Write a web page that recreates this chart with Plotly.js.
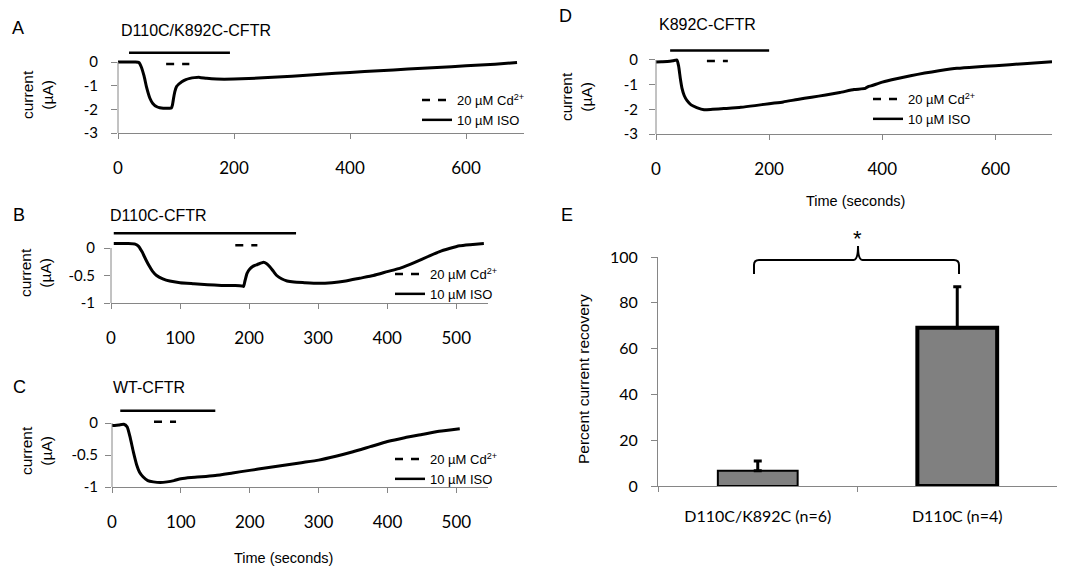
<!DOCTYPE html>
<html>
<head>
<meta charset="utf-8">
<script src="https://cdn.plot.ly/plotly-3.0.1.min.js"></script>
<style>html,body{margin:0;padding:0;background:#fff}#chart{width:1077px;height:567px}</style>
</head>
<body>
<div id="chart"></div>
<script>
// ---------- DATA ----------
// Panel A: D110C/K892C-CFTR
const timeA = [0,10,20,30,36,40,45,49,55,60,67,72,78,85,92,94,96,98,101,105,110,117,124,132,141,153,170,200,250,300,350,400,450,500,550,600,650,688];
const currentA = [0,0,0,0,-0.02,-0.2,-0.6,-1.04,-1.53,-1.75,-1.89,-1.93,-1.95,-1.95,-1.95,-1.8,-1.5,-1.25,-1.04,-0.93,-0.83,-0.74,-0.69,-0.66,-0.65,-0.69,-0.72,-0.72,-0.67,-0.6,-0.52,-0.44,-0.37,-0.3,-0.23,-0.16,-0.09,-0.02];
const isoA = [19, 193];
const cdA = [83, 123];

// Panel B: D110C-CFTR
const timeB = [4,15,25,35,40,45,50,55,60,66,75,85,100,120,140,160,180,190,192,194,197,201,206,212,218,221,225,230,235,240,247,255,265,280,300,320,340,360,380,400,420,440,460,475,490,505,520,540];
const currentB = [0.08,0.08,0.08,0.07,0.03,-0.07,-0.2,-0.32,-0.42,-0.5,-0.56,-0.6,-0.63,-0.65,-0.67,-0.68,-0.68,-0.69,-0.7,-0.6,-0.46,-0.38,-0.33,-0.3,-0.27,-0.26,-0.28,-0.34,-0.42,-0.5,-0.56,-0.6,-0.62,-0.63,-0.64,-0.63,-0.6,-0.55,-0.5,-0.43,-0.36,-0.26,-0.15,-0.07,-0.01,0.04,0.06,0.08];
const isoB = [4, 268];
const cdB = [180, 212];

// Panel C: WT-CFTR
const timeC = [0,10,17,22,26,31,36,40,45,52,60,70,80,90,100,115,130,150,175,200,225,250,275,300,325,350,375,400,425,450,475,505];
const currentC = [-0.04,-0.03,-0.02,-0.06,-0.21,-0.45,-0.66,-0.77,-0.84,-0.9,-0.92,-0.93,-0.92,-0.9,-0.87,-0.85,-0.84,-0.82,-0.78,-0.74,-0.7,-0.66,-0.62,-0.58,-0.52,-0.45,-0.37,-0.29,-0.23,-0.18,-0.13,-0.09];
const isoC = [12, 150];
const cdC = [61, 93];

// Panel D: K892C-CFTR
const timeD = [0,10,20,30,37,40,43,46,50,55,62,72,85,100,120,150,175,200,225,250,275,300,325,350,370,375,380,400,425,450,475,500,532,565,600,650,700];
const currentD = [-0.08,-0.07,-0.06,-0.03,0,-0.25,-0.75,-1.15,-1.45,-1.65,-1.82,-1.93,-2.02,-2.0,-1.97,-1.92,-1.85,-1.77,-1.7,-1.6,-1.51,-1.42,-1.32,-1.2,-1.15,-1.08,-1.05,-0.9,-0.76,-0.64,-0.53,-0.44,-0.34,-0.28,-0.23,-0.15,-0.07];
const isoD = [25, 200];
const cdD = [90, 127];

// Panel E: percent current recovery
const categoriesE = ['D110C/K892C (n=6)', 'D110C (n=4)'];
const recoveryE = [6.7, 69.1];
const errorE = [4.2, 17.9];

// Tick labels
const xTicksAD = [0, 200, 400, 600];
const xTicksBC = [0, 100, 200, 300, 400, 500];
const yTicksAD = [0, -1, -2, -3];
const yTickTextAD = ['0', '-1', '-2', '-3'];
const yTicksBC = [0, -0.5, -1];
const yTickTextBC = ['0', '-0.5', '-1'];
const yTicksE = [0, 20, 40, 60, 80, 100];

const cdName = '20 µM Cd<sup>2+</sup>';
const isoName = '10 µM ISO';

// ---------- STYLE / LAYOUT ----------
const W = 1077, H = 567;
const GRAY = '#868686';
const ARIAL = 'Liberation Sans, Arial, sans-serif';
const TICKF = 'Lato, Carlito, sans-serif';
const px = v => v / W;
const py = v => 1 - v / H;

function panelTraces(n, t, I, iso, cd, isoLevel, cdLevel) {
  const xa = n === 1 ? 'x' : 'x' + n;
  const ya = n === 1 ? 'y' : 'y' + n;
  const lg = n === 1 ? 'legend' : 'legend' + n;
  return [
    {x: t, y: I, xaxis: xa, yaxis: ya, mode: 'lines', showlegend: false, hoverinfo: 'skip',
     line: {color: '#000', width: 3, shape: 'spline', smoothing: 0.5}},
    {x: cd, y: [cdLevel, cdLevel], xaxis: xa, yaxis: ya, mode: 'lines', name: cdName, legend: lg,
     line: {color: '#000', width: 2.5, dash: '8px,8px'}},
    {x: iso, y: [isoLevel, isoLevel], xaxis: xa, yaxis: ya, mode: 'lines', name: isoName, legend: lg,
     line: {color: '#000', width: 2.5}}
  ];
}

const data = [].concat(
  panelTraces(1, timeA, currentA, isoA, cdA, 0.39, -0.08),
  panelTraces(2, timeB, currentB, isoB, cdB, 0.27, 0.05),
  panelTraces(3, timeC, currentC, isoC, cdC, 0.19, 0.02),
  panelTraces(4, timeD, currentD, isoD, cdD, 0.38, -0.04),
  [{
    x: categoriesE, y: recoveryE, type: 'bar', xaxis: 'x5', yaxis: 'y5', showlegend: false, hoverinfo: 'skip',
    marker: {color: '#808080', line: {color: '#000', width: [2, 4]}},
    error_y: {type: 'data', array: errorE, arrayminus: [0, 0], symmetric: false, color: '#000', thickness: 3, width: 4}
  }]
);

function xAxis(domain, range, anchor, tickvals) {
  return {domain, range, anchor, tickvals, showline: true, linecolor: GRAY, linewidth: 1,
    ticks: 'outside', ticklen: 5, tickcolor: GRAY, showgrid: false, zeroline: false,
    tickfont: {family: TICKF, size: 17, color: '#000'}, ticklabelstandoff: 15, fixedrange: true};
}
function yAxis(domain, range, anchor, tickvals, ticktext, standoff) {
  return {domain, range, anchor, tickvals, ticktext, showline: false,
    ticks: 'outside', ticklen: 6, tickcolor: GRAY, showgrid: false, zeroline: false,
    tickfont: {family: TICKF, size: 15, color: '#000'}, ticklabelstandoff: standoff, fixedrange: true};
}
function legendAt(x, y) {
  return {x, y, xanchor: 'left', yanchor: 'top', bgcolor: 'rgba(0,0,0,0)', borderwidth: 0,
    font: {family: ARIAL, size: 13, color: '#000'}};
}
function yLine(xref, yref, y0) {
  return {type: 'line', xref: xref + ' domain', yref, x0: 0, x1: 0, y0, y1: 0, line: {color: GRAY, width: 1}};
}
function ann(text, x, y, size, angle) {
  return {text, x: px(x), y: py(y), xref: 'paper', yref: 'paper', xanchor: 'center', yanchor: 'middle',
    showarrow: false, textangle: angle || 0, font: {family: ARIAL, size, color: '#000'}};
}

const layout = {
  width: W, height: H, margin: {l: 0, r: 0, t: 0, b: 0},
  paper_bgcolor: '#fff', plot_bgcolor: 'rgba(0,0,0,0)',
  font: {family: ARIAL, color: '#000'},
  showlegend: true, bargap: 0.6,
  xaxis: xAxis([px(118), px(524)], [0, 700], 'y', xTicksAD),
  yaxis: yAxis([py(133), py(49)], [-3, 0.55], 'x', yTicksAD, yTickTextAD, 10),
  xaxis2: xAxis([px(111), px(488)], [0, 546], 'y2', xTicksBC),
  yaxis2: yAxis([py(303), py(228.75)], [-1, 0.35], 'x2', yTicksBC, yTickTextBC, 6),
  xaxis3: xAxis([px(112), px(488)], [0, 546], 'y3', xTicksBC),
  yaxis3: yAxis([py(487), py(403.8)], [-1, 0.3], 'x3', yTicksBC, yTickTextBC, 4),
  xaxis4: xAxis([px(656), px(1052)], [0, 700], 'y4', xTicksAD),
  yaxis4: yAxis([py(134), py(46.4)], [-3, 0.55], 'x4', yTicksAD, yTickTextAD, 8),
  xaxis5: Object.assign(xAxis([px(658), px(1057)], [-0.5, 1.5], 'y5', undefined),
    {type: 'category', tickson: 'boundaries', tickvals: undefined, ticklabelstandoff: 16,
     tickfont: {family: TICKF, size: 16, color: '#000'}}),
  yaxis5: {domain: [py(486), py(257)], range: [0, 100], anchor: 'x5', tickvals: yTicksE,
    showline: true, linecolor: GRAY, linewidth: 1, ticks: 'outside', ticklen: 6, tickcolor: GRAY,
    showgrid: false, zeroline: false, tickfont: {family: TICKF, size: 16, color: '#000'},
    ticklabelstandoff: 10, fixedrange: true},
  legend: legendAt(px(417), py(85)),
  legend2: legendAt(px(390), py(259)),
  legend3: legendAt(px(390), py(444)),
  legend4: legendAt(px(868), py(84)),
  shapes: [
    yLine('x', 'y', -3),
    yLine('x2', 'y2', -1),
    yLine('x3', 'y3', -1),
    yLine('x4', 'y4', -3),
    {type: 'path', xref: 'x5 domain', yref: 'y5 domain', line: {color: '#000', width: 2},
     path: 'M0.2406,0.926 L0.2406,0.965 Q0.2406,0.987 0.2531,0.987 L0.49,0.987 Q0.5013,0.987 0.5013,1.048 Q0.5013,0.987 0.5126,0.987 L0.7418,0.987 Q0.7544,0.987 0.7544,0.965 L0.7544,0.926'}
  ],
  annotations: [
    ann('A', 18, 28, 18), ann('D110C/K892C-CFTR', 196, 30, 16),
    ann('B', 19, 215, 18), ann('D110C-CFTR', 158, 215, 16),
    ann('C', 20, 387, 18), ann('WT-CFTR', 149, 387, 16),
    ann('D', 565, 16, 18), ann('K892C-CFTR', 707, 25, 16),
    ann('E', 567, 215, 18),
    ann('current<br>(µA)', 37, 95, 15.5, -90),
    ann('current<br>(µA)', 36, 273, 15.5, -90),
    ann('current<br>(µA)', 36, 451, 15.5, -90),
    ann('current<br>(µA)', 577, 97, 15.5, -90),
    ann('Percent current recovery', 583, 379, 15.5, -90),
    ann('Time (seconds)', 283, 558, 14.5),
    ann('Time (seconds)', 855, 201, 14.5),
    ann('*', 857, 238, 22)
  ]
};

Plotly.newPlot('chart', data, layout, {displayModeBar: false, responsive: false});
</script>
</body>
</html>
